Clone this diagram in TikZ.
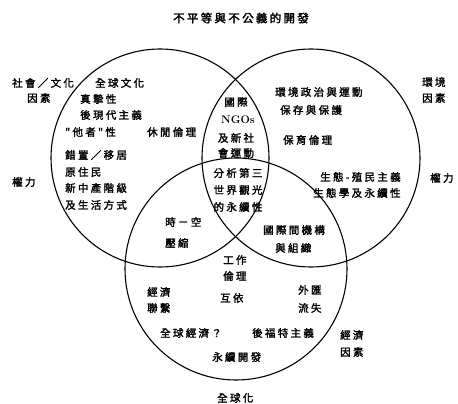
\documentclass[tikz,border=0pt]{standalone}
\usepackage{fontspec}
\newfontfamily\cjk[FakeBold=2,LetterSpace=22]{Noto Sans CJK TC}
\newfontfamily\cjkt[FakeBold=2.4,LetterSpace=20]{Noto Sans CJK TC}
\begin{document}
\begin{tikzpicture}[x=1pt,y=-1pt,
  ring/.style={circle,draw,line width=1.1pt,inner sep=0pt,minimum size=#1},
  lbl/.style={inner sep=0pt,anchor=west,font=\cjk\fontsize{10.5}{12}\selectfont},
  clbl/.style={inner sep=0pt,anchor=center,font=\cjk\fontsize{10.5}{12}\selectfont}]
\useasboundingbox (0,0) rectangle (458,404);
% circles
\node[ring=218pt] (A) at (160,158) {};
\node[ring=218pt] (B) at (311,158) {};
\node[ring=222pt] (C) at (236,269) {};
% title
\node[inner sep=0pt,font=\cjkt\fontsize{11.5}{13}\selectfont] (title) at (241,18) {不平等與不公義的開發};
% outside labels
\node[lbl] (sc1) at (12,83) {社會／文化};
\node[lbl] (sc2) at (27,98) {因素};
\node[lbl] (pl) at (12,182) {權力};
\node[lbl] (en1) at (422,82) {環境};
\node[lbl] (en2) at (422,98) {因素};
\node[lbl] (pr) at (430,178) {權力};
\node[lbl] (ec1) at (340,335) {經濟};
\node[lbl] (ec2) at (340,352) {因素};
\node[lbl] (gl) at (217,398) {全球化};
% left circle
\node[lbl] (l1) at (95,83) {全球文化};
\node[lbl] (l2) at (80,99) {真摯性};
\node[lbl] (l3) at (80,115) {後現代主義};
\node[lbl] (l4) at (65,132) {"他者"性};
\node[lbl] (l5) at (147,132) {休閒倫理};
\node[lbl] (l6) at (65,155) {錯置／移居};
\node[lbl] (l7) at (65,172) {原住民};
\node[lbl] (l8) at (65,188) {新中產階級};
\node[lbl] (l9) at (65,205) {及生活方式};
% top lens
\node[clbl] (m1) at (236,102) {國際};
\node[inner sep=0pt,font=\bfseries\fontsize{11}{12}\selectfont] (m2) at (238,120) {NGOs};
\node[clbl] (m3) at (236,138) {及新社};
\node[clbl] (m4) at (236,153) {會運動};
% centre
\node[clbl] (c1) at (238,173) {分析第三};
\node[clbl] (c2) at (238,190) {世界觀光};
\node[clbl] (c3) at (238,207) {的永續性};
% right circle
\node[lbl] (r1) at (275,92) {環境政治與運動};
\node[lbl] (r2) at (280,110) {保存與保護};
\node[lbl] (r3) at (283,140) {保育倫理};
\node[lbl] (r4) at (320,177) {生態-殖民主義};
\node[lbl] (r5) at (313,193) {生態學及永續性};
% left-bottom lens
\node[lbl] (t1) at (165,222) {時－空};
\node[lbl] (t2) at (165,243) {壓縮};
% right-bottom lens
\node[lbl] (i1) at (263,230) {國際間機構};
\node[lbl] (i2) at (275,248) {與組織};
% bottom circle
\node[lbl] (w1) at (223,260) {工作};
\node[lbl] (w2) at (223,276) {倫理};
\node[lbl] (b1) at (147,292) {經濟};
\node[lbl] (b2) at (147,308) {聯繫};
\node[lbl] (b3) at (220,298) {互依};
\node[lbl] (b4) at (298,290) {外匯};
\node[lbl] (b5) at (298,308) {流失};
\node[lbl] (b6) at (160,333) {全球經濟？};
\node[lbl] (b7) at (252,333) {後福特主義};
\node[lbl] (b8) at (212,357) {永續開發};
\end{tikzpicture}
\end{document}
